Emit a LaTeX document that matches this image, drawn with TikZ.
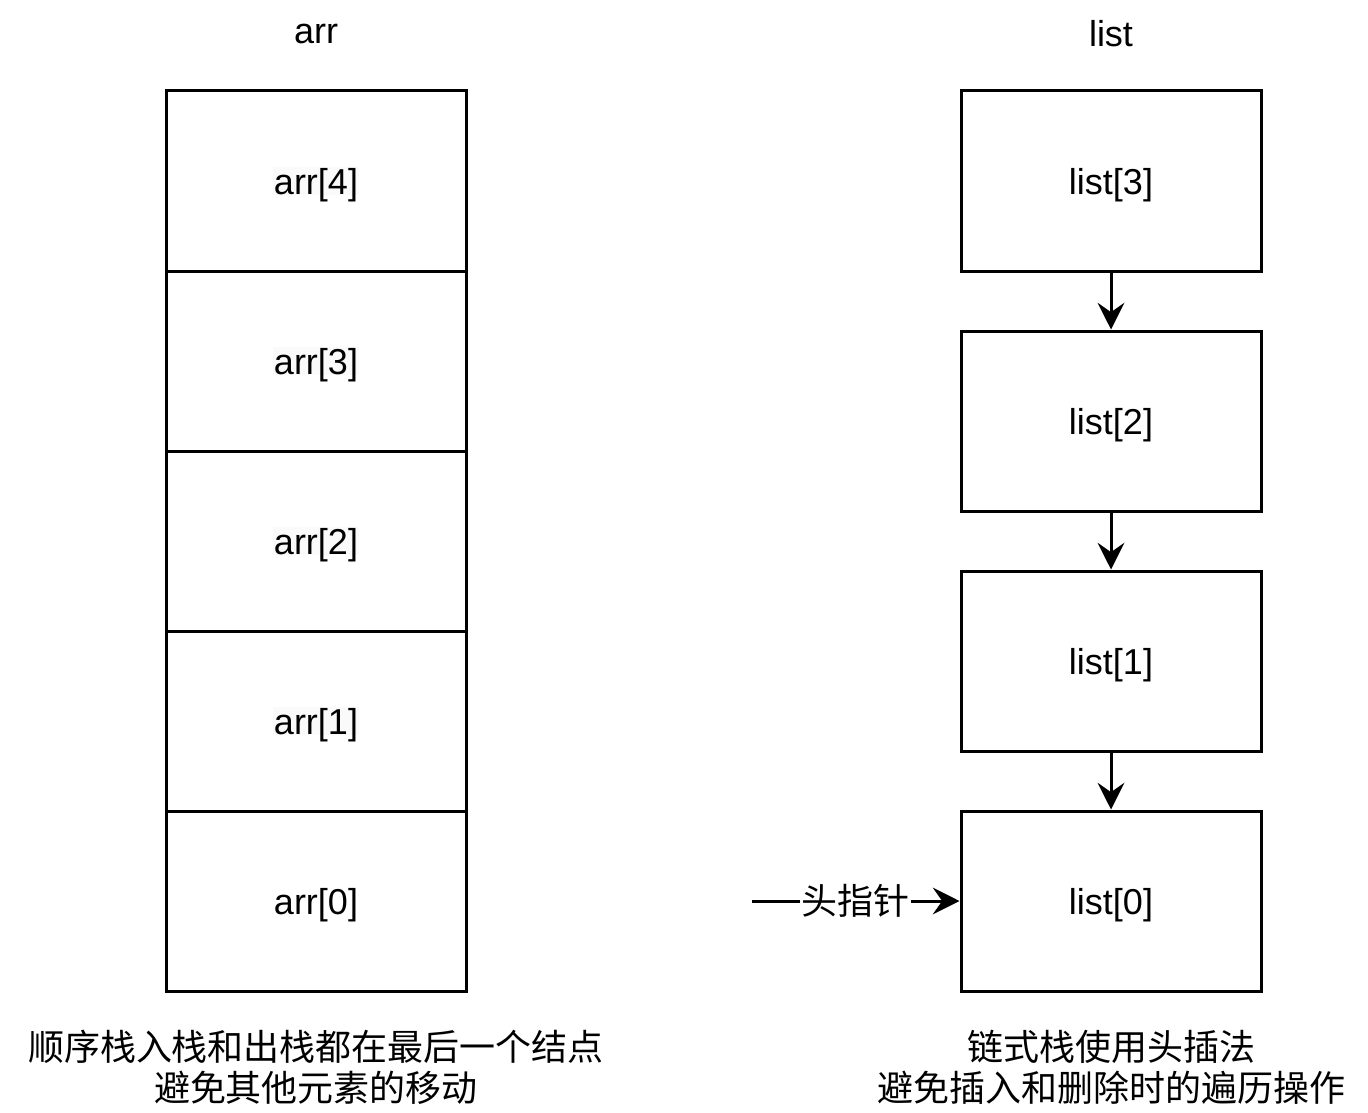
\documentclass[tikz,border=0pt]{standalone}
\usepackage{fontspec}
\setmainfont{Liberation Sans}
\newfontfamily\cjk{Noto Sans CJK SC}
\usetikzlibrary{arrows.meta}
\definecolor{hl}{RGB}{250,250,250}
\begin{document}
\begin{tikzpicture}[x=0.75pt,y=-0.75pt,
  txt/.style={font=\fontsize{27}{31}\selectfont, inner sep=1pt, text depth=0pt},
  cell/.style={draw, line width=2.25pt, minimum width=225pt, minimum height=135pt, inner sep=0pt},
  cn/.style={font=\fontsize{27}{31}\cjk\selectfont, align=center, inner sep=0pt},
  arrowline/.style={line width=2.25pt, -{Stealth[length=20pt,width=20pt,inset=7pt]}}
]
\useasboundingbox (0,0) rectangle (1368,1113);
% titles
\node[txt] (tarr) at (316,34) {arr};
\node[txt] (tlist) at (1111,33) {list};
% array stack
\node[cell] (a4) at (316,181) {};
\node[cell] (a3) at (316,361) {};
\node[cell] (a2) at (316,541) {};
\node[cell] (a1) at (316,721) {};
\node[cell] (a0) at (316,901) {};
\node[txt, fill=hl] (a4t) at (a4) {arr[4]};
\node[txt, fill=hl] (a3t) at (a3) {arr[3]};
\node[txt, fill=hl] (a2t) at (a2) {arr[2]};
\node[txt, fill=hl] (a1t) at (a1) {arr[1]};
\node[txt] (a0t) at (a0) {arr[0]};
% linked stack
\node[cell, txt, inner sep=0pt] (l3) at (1111,181) {list[3]};
\node[cell, txt, inner sep=0pt] (l2) at (1111,421) {list[2]};
\node[cell, txt, inner sep=0pt] (l1) at (1111,661) {list[1]};
\node[cell, txt, inner sep=0pt] (l0) at (1111,901) {list[0]};
\draw[arrowline] (l3) -- (l2);
\draw[arrowline] (l2) -- (l1);
\draw[arrowline] (l1) -- (l0);
\coordinate (hp) at (752,901);
\draw[arrowline] (hp) -- (l0) node[midway, fill=white, cn, inner xsep=1pt, inner ysep=2pt] (hpt) {头指针};
% captions
\node[cn] (capl) at (316,1067) {顺序栈入栈和出栈都在最后一个结点\\避免其他元素的移动};
\node[cn] (capr) at (1111,1067) {链式栈使用头插法\\避免插入和删除时的遍历操作};
\end{tikzpicture}
\end{document}
